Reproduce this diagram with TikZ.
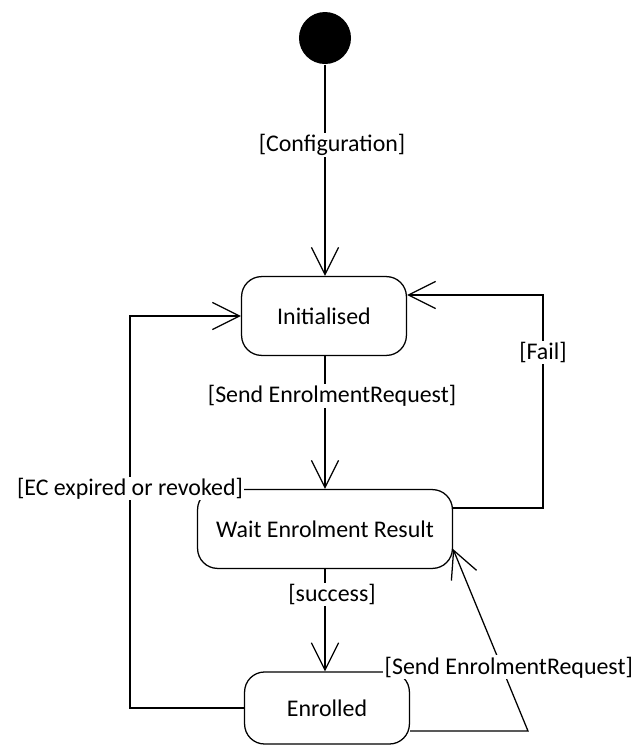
\documentclass[tikz,border=0pt]{standalone}
\usepackage{fontspec}
\setmainfont{Carlito}
\usetikzlibrary{arrows.meta, positioning}
\tikzset{
	state/.style={draw, line width=0.9pt, rounded corners=0.5cm, align=center},
	guard/.style={fill=white, inner sep=1pt},
	>={Straight Barb[length=0.68cm,width=0.68cm]}
}

\begin{document}
\begin{tikzpicture}[x=0.025cm, y=-0.025cm, font=\fontsize{17}{20}\selectfont, line width=0.9pt]
\useasboundingbox (0,0) rectangle (636,746);
\node[circle, fill, inner sep=0pt, minimum size=1.3cm] (start) at (325,38) {};
\node[state, minimum width=4.12cm, minimum height=1.97cm] (init) at (324,316) {Initialised};
\node[state, minimum width=6.37cm, minimum height=1.97cm] (wait) at (325,529) {Wait Enrolment Result};
\node[state, minimum width=4.12cm, minimum height=1.8cm] (enr) at (327,708) {Enrolled};
\coordinate (ecx) at (130,0);
\coordinate (failA) at (543,508);
\coordinate (failB) at (543,295);
\coordinate (sendA) at (528,731);

\draw[->] (start) -- node[guard, xshift=5pt, pos=.38]{[Configuration]} (init.north -| start);
\draw[->] (init.south -| wait.north) -- node[guard, xshift=5pt, pos=.3]{[Send EnrolmentRequest]} (wait.north);
\draw[->] (wait.south) -- node[guard, xshift=5pt, pos=.25]{[success]} (wait.south |- enr.north);
\draw[->] (wait.east |- failA) -- (failA) -- node[guard, pos=.73]{[Fail]} (failB) -- (init.east |- failB);
\draw[->] (enr.west) -| node[guard, pos=.78]{[EC expired or revoked]} (ecx |- init.west) -- (init.west);
\draw[->] (enr.east |- sendA) -- (sendA) -- node[guard, xshift=5pt, pos=.35]{[Send EnrolmentRequest]} ([yshift=0.5cm]wait.south east);
\end{tikzpicture}
\end{document}
